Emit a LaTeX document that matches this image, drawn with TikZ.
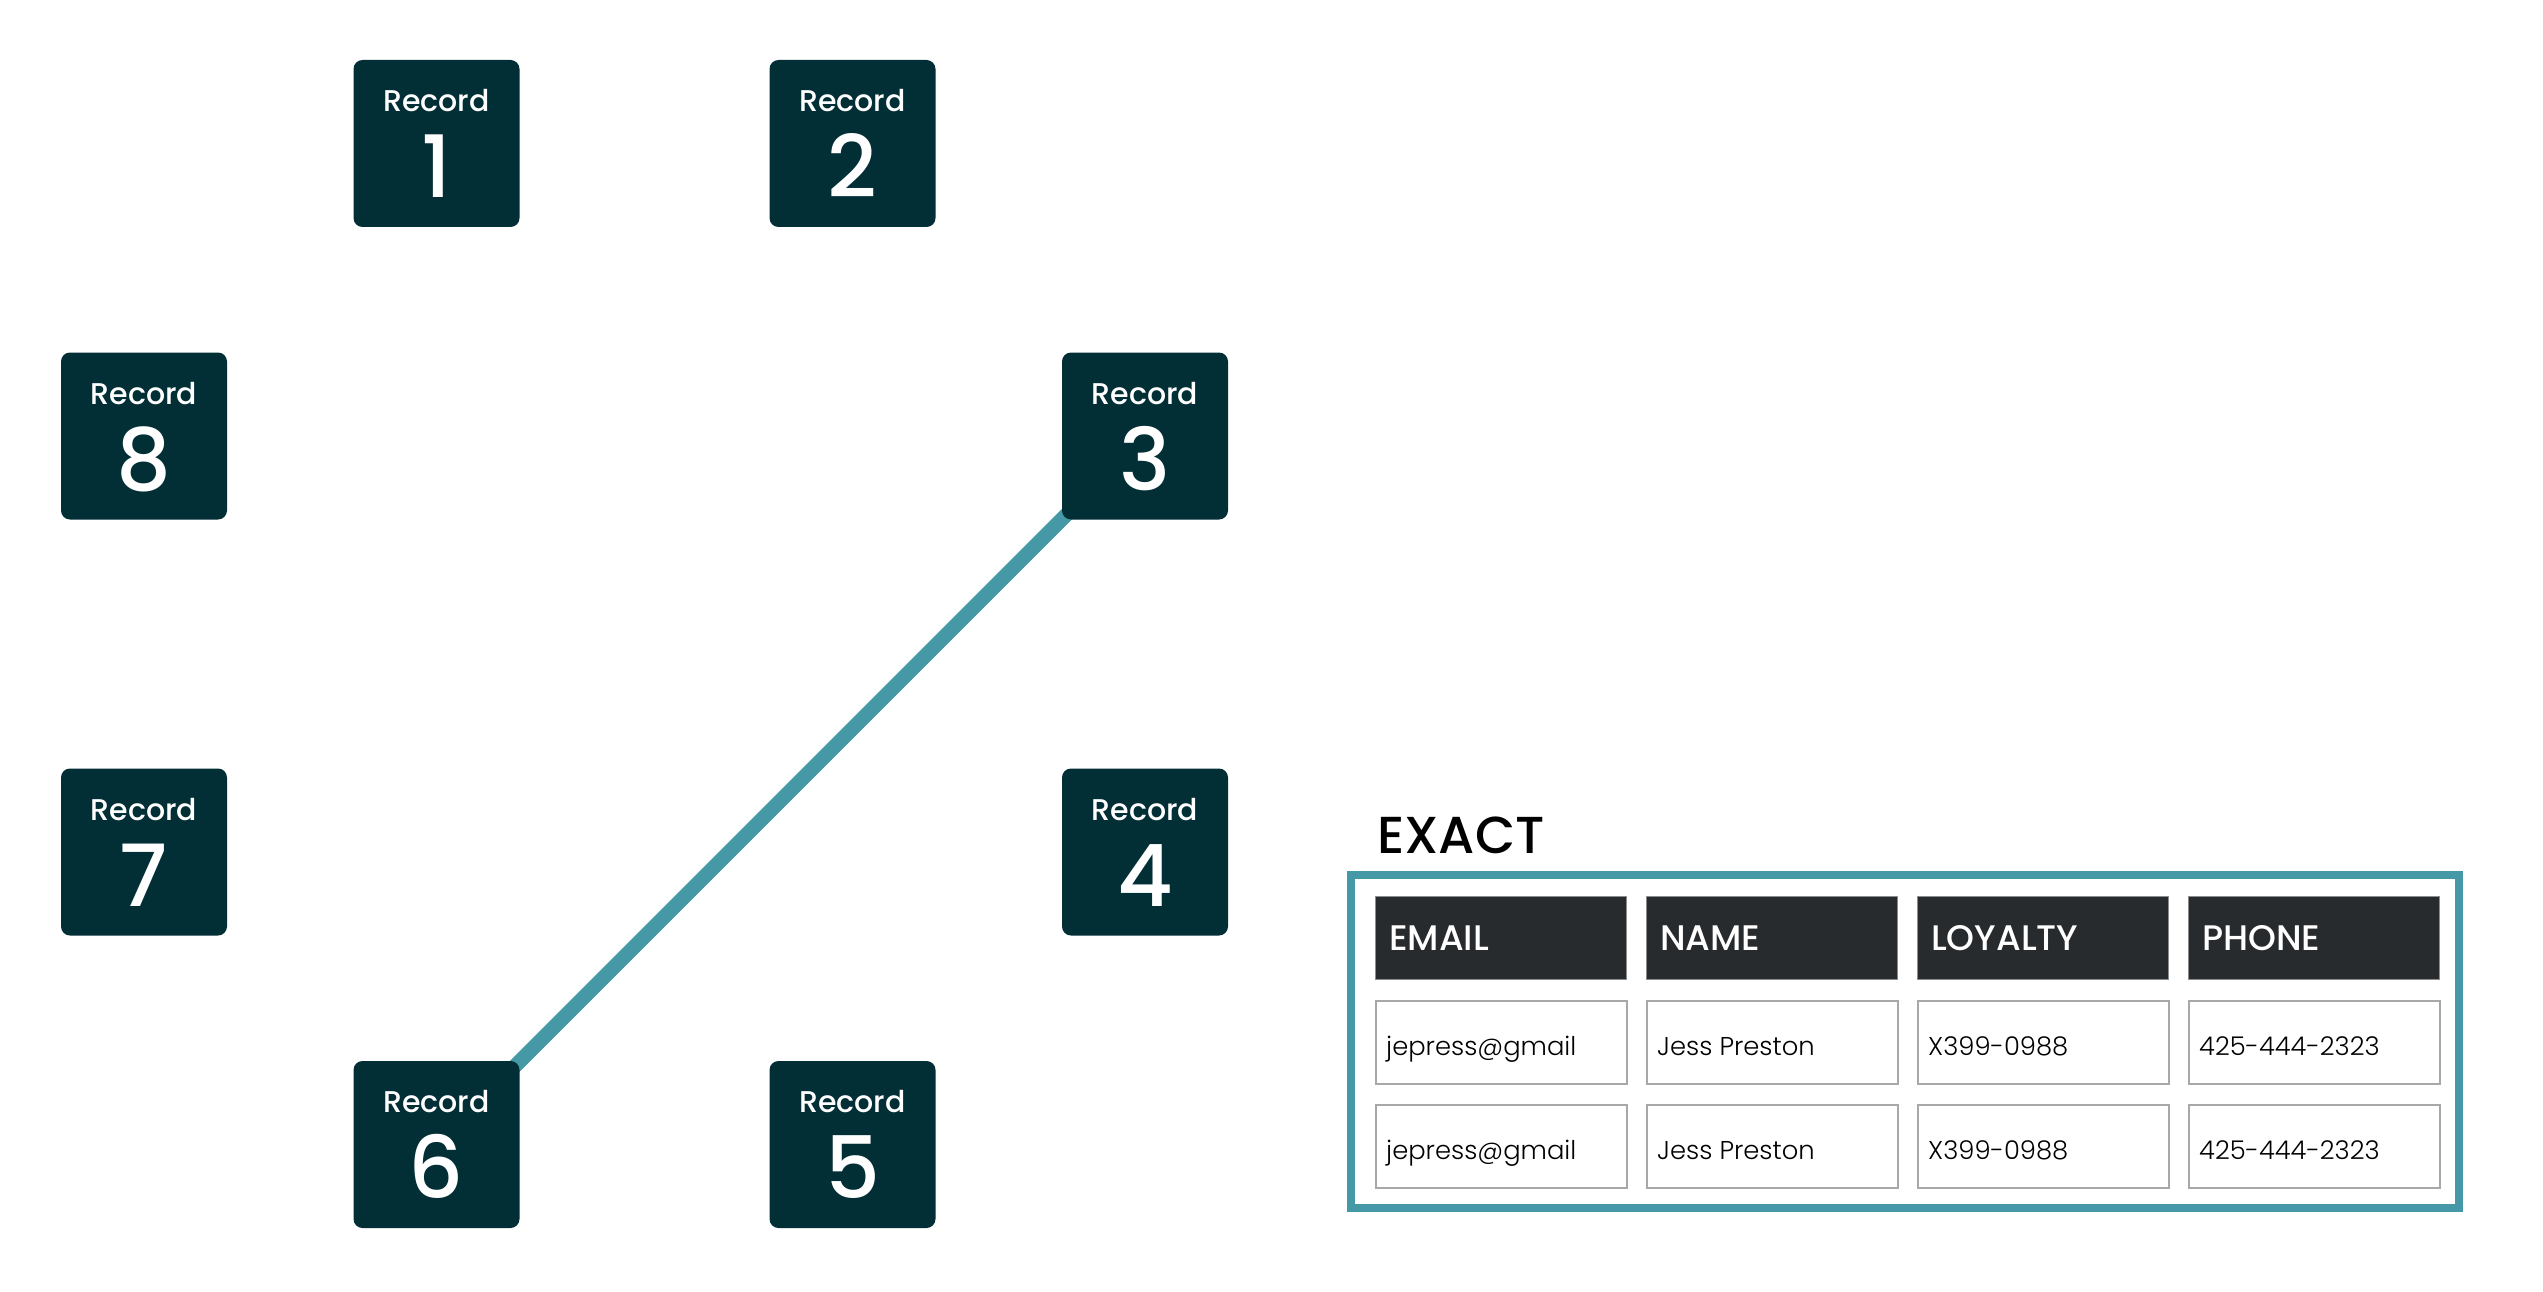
\documentclass[tikz,border=0pt]{standalone}
\usepackage{fontspec}
\setmainfont{Poppins}
\newfontfamily\pmed{Poppins Medium}
\newfontfamily\psemi{Poppins SemiBold}
\newfontfamily\plight{Poppins Light}
\usetikzlibrary{backgrounds}
\definecolor{recfill}{HTML}{022E36}
\definecolor{linkcol}{HTML}{4599A6}
\definecolor{hdrfill}{HTML}{272B2E}
\definecolor{hdrline}{HTML}{8A8C8E}
\definecolor{cellline}{HTML}{A8A8A8}
\begin{document}
\begin{tikzpicture}[x=1pt,y=-1pt,
  recbox/.style={fill=recfill, rounded corners=9pt, minimum width=166pt, minimum height=167pt, inner sep=0pt, outer sep=0pt},
  rectitle/.style={anchor=base, text=white, font=\pmed\fontsize{30}{32}\selectfont, inner sep=0pt},
  recnum/.style={anchor=base, text=white, font=\pmed\fontsize{86}{90}\selectfont, inner sep=0pt},
  link/.style={draw=linkcol, line width=14.5pt},
  frame/.style={draw=linkcol, line width=8pt, minimum width=1108.5pt, minimum height=333pt, inner sep=0pt},
  hdr/.style={fill=hdrfill, draw=hdrline, line width=1.2pt, minimum width=251pt, minimum height=83pt, inner sep=0pt, anchor=north west},
  cell/.style={fill=white, draw=cellline, line width=1.5pt, minimum width=251pt, minimum height=83pt, inner sep=0pt, anchor=north west},
  hdrtext/.style={anchor=base west, text=white, font=\pmed\fontsize{35.5}{38}\selectfont, inner sep=0pt},
  celltext/.style={anchor=base west, text=black, font=\plight\fontsize{25.8}{28}\selectfont, inner sep=0pt},
  title/.style={anchor=base west, text=black, font=\pmed\fontsize{52}{56}\selectfont, inner sep=0pt}
]
\useasboundingbox (0,0) rectangle (2543,1292);

% records (octagon layout)
\node[recbox] (r1) at (436.5,143.5) {};
\node[recbox] (r2) at (852.5,143.5) {};
\node[recbox] (r3) at (1145,436) {};
\node[recbox] (r4) at (1145,852) {};
\node[recbox] (r5) at (852.5,1144.5) {};
\node[recbox] (r6) at (436.5,1144.5) {};
\node[recbox] (r7) at (144,852) {};
\node[recbox] (r8) at (144,436) {};

\foreach \i in {1,...,8}{
  \node[rectitle] (t\i) at ([yshift=31.8pt]r\i.center) {Record};
  \node[recnum] (n\i) at ([yshift=-54pt]r\i.center) {\i};
}

\begin{pgfonlayer}{background}
  \fill[white] (0,0) rectangle (2543,1292);
  \draw[link] (r6.center) -- (r3.center);
\end{pgfonlayer}

% table
\node[title] (exact) at (1377,853) {EXACT};
\node[frame] (tbl) at (1904.75,1041.5) {};

\node[hdr] (h1) at (1375,896) {};
\node[hdr] (h2) at (1646,896) {};
\node[hdr] (h3) at (1917,896) {};
\node[hdr] (h4) at (2188,896) {};
\node[hdrtext] (ht1) at ([xshift=14pt,yshift=-12pt]h1.west) {EMAIL};
\node[hdrtext] (ht2) at ([xshift=14pt,yshift=-12pt]h2.west) {NAME};
\node[hdrtext] (ht3) at ([xshift=14pt,yshift=-12pt]h3.west) {LOYALTY};
\node[hdrtext] (ht4) at ([xshift=14pt,yshift=-12pt]h4.west) {PHONE};

\foreach \r/\y in {a/1000,b/1104}{
  \node[cell] (c\r1) at (1375,\y) {};
  \node[cell] (c\r2) at (1646,\y) {};
  \node[cell] (c\r3) at (1917,\y) {};
  \node[cell] (c\r4) at (2188,\y) {};
  \node[celltext] (ct\r1) at ([xshift=11pt,yshift=-13.5pt]c\r1.west) {jepress@gmail};
  \node[celltext] (ct\r2) at ([xshift=11pt,yshift=-13.5pt]c\r2.west) {Jess Preston};
  \node[celltext] (ct\r3) at ([xshift=11pt,yshift=-13.5pt]c\r3.west) {X399-0988};
  \node[celltext] (ct\r4) at ([xshift=11pt,yshift=-13.5pt]c\r4.west) {425-444-2323};
}
\end{tikzpicture}
\end{document}
